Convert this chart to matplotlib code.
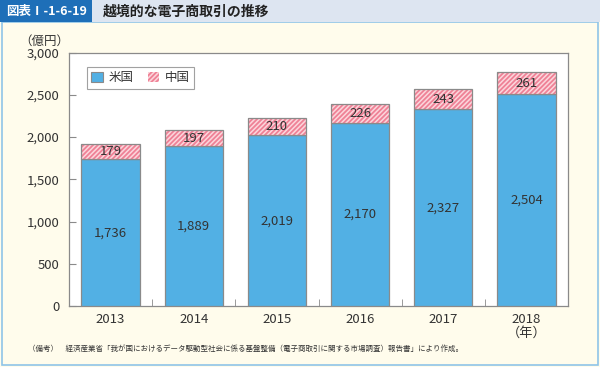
import matplotlib
matplotlib.use("Agg")
import matplotlib.pyplot as plt
from matplotlib.patches import Rectangle, Patch
import numpy as np

plt.rcParams['font.family'] = ['Noto Sans CJK JP', 'DejaVu Sans']
plt.rcParams['hatch.linewidth'] = 1.3

years = ["2013", "2014", "2015", "2016", "2017", "2018\n（年）"]
usa = [1736, 1889, 2019, 2170, 2327, 2504]
china = [179, 197, 210, 226, 243, 261]

blue = "#52b0e4"
pink_face = "#fcd6dc"
pink_hatch = "#ef8196"
edge = "#8a8a8a"
text_col = "#333333"
cream = "#fffcec"

fig = plt.figure(figsize=(6, 3.67), dpi=100)
fig.patch.set_facecolor(cream)

# header and frame
fig.patches.append(Rectangle((0.003, 0.005), 0.994, 0.935, transform=fig.transFigure,
                             facecolor="none", edgecolor="#8fc4e8", linewidth=1.2, zorder=-5))
fig.patches.append(Rectangle((0, 0.94), 1, 0.06, transform=fig.transFigure,
                             facecolor="#dde5f1", edgecolor="none", zorder=-4))
fig.patches.append(Rectangle((0, 0.94), 0.153, 0.06, transform=fig.transFigure,
                             facecolor="#1e6fb8", edgecolor="none", zorder=-3))
fig.text(0.077, 0.969, "図表Ⅰ-1-6-19", color="white", fontsize=9,
         fontweight="bold", va="center", ha="center")
fig.text(0.172, 0.969, "越境的な電子商取引の推移", color="#222222", fontsize=10,
         fontweight="bold", va="center", ha="left")

ax = fig.add_axes([0.115, 0.1662, 0.8317, 0.6907])
ax.set_facecolor("white")

x = np.arange(len(years))
w = 0.7
ax.bar(x, usa, width=w, color=blue, edgecolor=edge, linewidth=0.9, zorder=3)
ax.bar(x, china, width=w, bottom=usa, color=pink_face, edgecolor=pink_hatch,
       hatch="///////", linewidth=0, zorder=3)
ax.bar(x, china, width=w, bottom=usa, fill=False, edgecolor=edge, linewidth=0.9, zorder=4)

for i in range(len(years)):
    ax.text(x[i], usa[i] / 2, f"{usa[i]:,}", ha="center", va="center",
            fontsize=9.5, color=text_col, zorder=5)
    ax.text(x[i], usa[i] + china[i] / 2, f"{china[i]:,}", ha="center", va="center",
            fontsize=9.5, color=text_col, zorder=5)

ax.set_xlim(-0.5, 5.5)
ax.set_ylim(0, 3000)
ax.set_yticks(np.arange(0, 3001, 500))
ax.set_yticklabels([f"{v:,}" for v in range(0, 3001, 500)])
ax.set_xticks(x)
ax.set_xticklabels(years, linespacing=1.1)
ax.set_xticks(x[:-1] + 0.5, minor=True)
ax.tick_params(axis="y", direction="in", length=5, color=edge, labelsize=9.5,
               labelcolor=text_col, pad=7)
ax.tick_params(axis="x", which="major", length=0, labelsize=9.5, labelcolor=text_col, pad=5)
ax.tick_params(axis="x", which="minor", direction="in", length=5, color=edge)
for s in ax.spines.values():
    s.set_color(edge)
    s.set_linewidth(0.9)

ax.text(-0.05, 1.045, "（億円）", transform=ax.transAxes, fontsize=9,
        color=text_col, ha="center", va="center")

handles = [Patch(facecolor=blue, edgecolor=edge, linewidth=0.8, label="米国"),
           Patch(facecolor=pink_face, edgecolor=pink_hatch, hatch="///////",
                 linewidth=0, label="中国")]
leg = ax.legend(handles=handles, loc="upper left", bbox_to_anchor=(0.036, 0.943),
                borderaxespad=0, ncol=2, frameon=True, fancybox=False, fontsize=9,
                handlelength=0.9, handleheight=0.9, handletextpad=0.5,
                columnspacing=1.1, borderpad=0.35, labelcolor=text_col)
leg.get_frame().set_edgecolor(edge)
leg.get_frame().set_linewidth(0.8)

fig.text(0.047, 0.05, "（備考）　経済産業省「我が国におけるデータ駆動型社会に係る基盤整備（電子商取引に関する市場調査）報告書」により作成。",
         fontsize=5.4, color=text_col, ha="left", va="center")

fig.savefig("out.png", dpi=100, facecolor=fig.get_facecolor())
